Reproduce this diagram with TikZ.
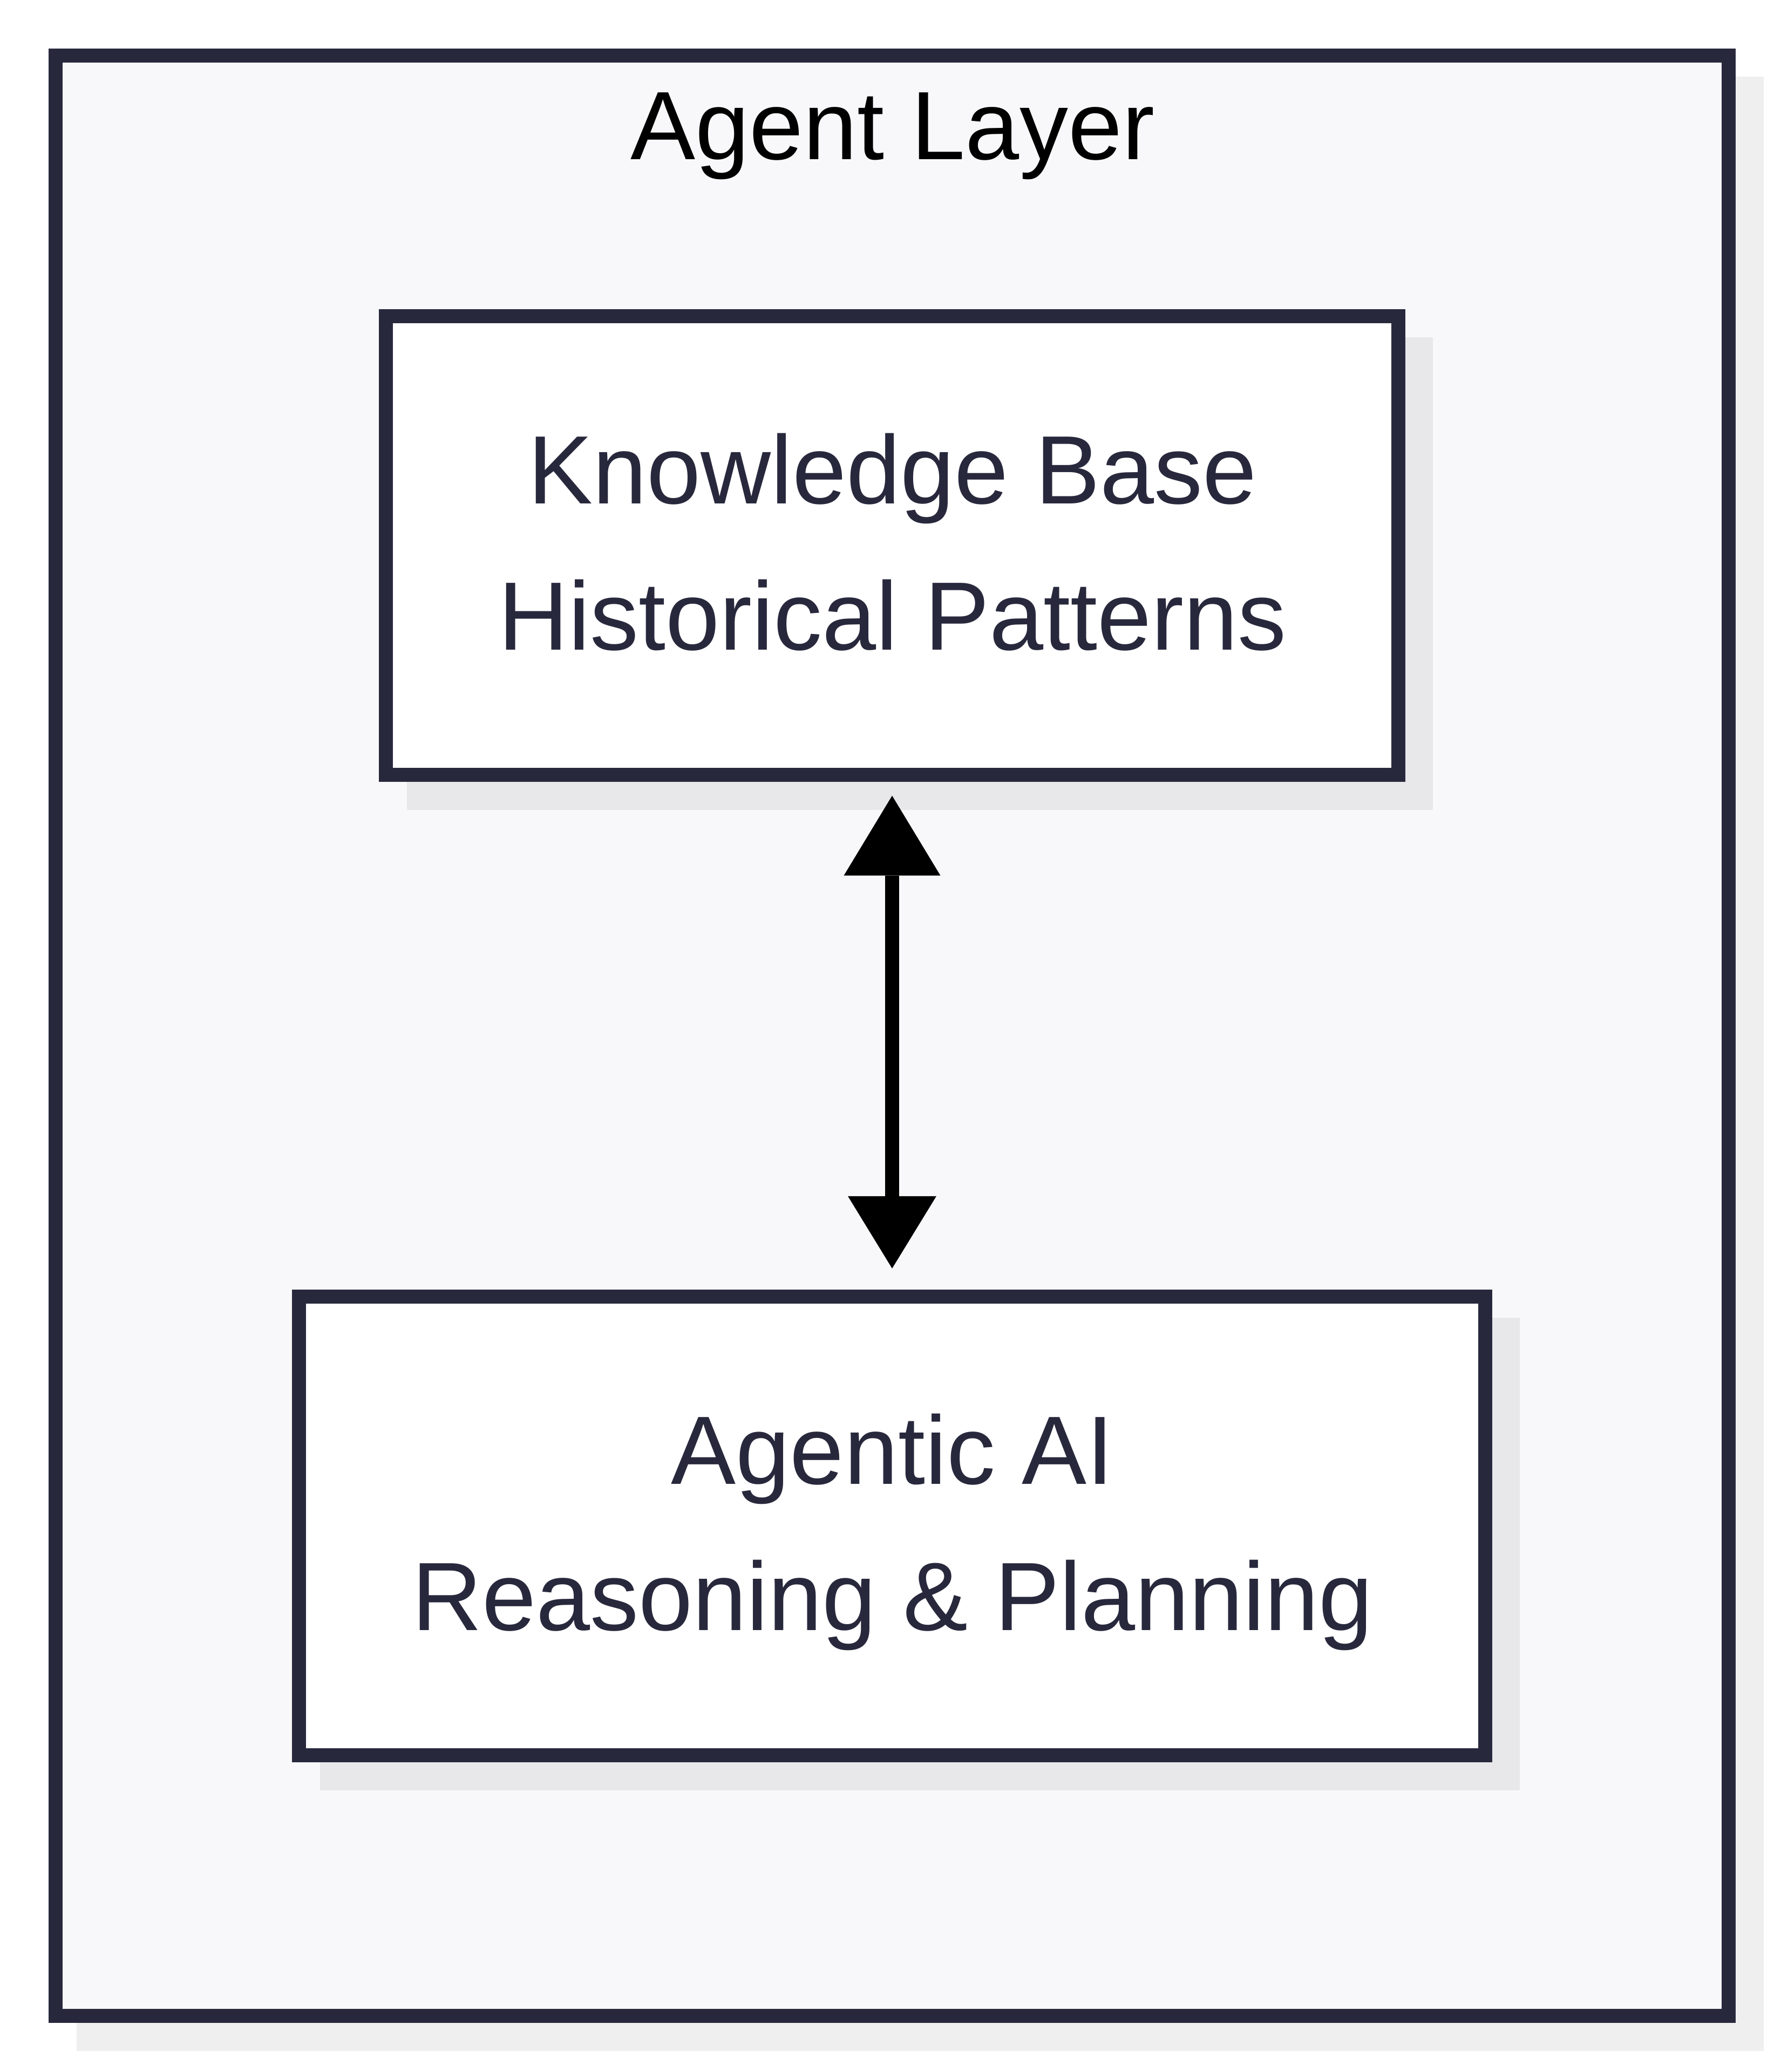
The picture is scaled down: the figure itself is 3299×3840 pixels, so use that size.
\documentclass[tikz,border=0pt]{standalone}
\usepackage{fontspec}
\setmainfont{Liberation Sans}
\usetikzlibrary{arrows.meta}
\definecolor{ink}{HTML}{28283D}
\definecolor{layerfill}{HTML}{F8F8FA}
\definecolor{shadowA}{HTML}{EFEFEF}
\definecolor{shadowB}{HTML}{E8E8EB}
\begin{document}
\begin{tikzpicture}[x=0.1pt,y=-0.1pt,
  box/.style={draw=ink, line width=2.6pt, fill=white, rectangle, inner sep=0pt},
  layerbox/.style={draw=ink, line width=2.6pt, fill=layerfill, rectangle, inner sep=0pt},
  lbl/.style={anchor=base, text=ink, font=\fontsize{18pt}{27pt}\selectfont, inner sep=0pt},
  link/.style={line width=2.6pt, black,
    {Triangle[length=14.8pt,width=17.9pt,line width=0pt]}-{Triangle[length=13.4pt,width=16.4pt,line width=0pt]}}
]
\useasboundingbox[fill=white] (0,0) rectangle (3299,3840);
% outer layer
\fill[shadowA] (141.5,141.5) rectangle (3267.5,3800.5);
\node[layerbox, minimum width=310pt, minimum height=363.3pt] (layer) at (1653,1919.5) {};
\node[lbl, text=black] (title) at (1654,295.7) {Agent Layer};
% inner boxes
\fill[shadowB] (753.5,624.5) rectangle (2655,1501);
\fill[shadowB] (592.5,2441.5) rectangle (2816,3317.5);
\node[box, minimum width=187.6pt, minimum height=85pt] (kb) at (1653,1011) {};
\node[box, minimum width=219.8pt, minimum height=85pt] (ai) at (1653,2828) {};
\node[lbl] (kb1) at (1654,933.7) {Knowledge Base};
\node[lbl] (kb2) at (1654,1204.7) {Historical Patterns};
\node[lbl] (ai1) at (1654,2750.7) {Agentic AI};
\node[lbl] (ai2) at (1654,3021.7) {Reasoning \& Planning};
% connector
\draw[link, shorten <=2.57pt, shorten >=3.93pt] (kb.south) -- (ai.north);
\end{tikzpicture}
\end{document}
